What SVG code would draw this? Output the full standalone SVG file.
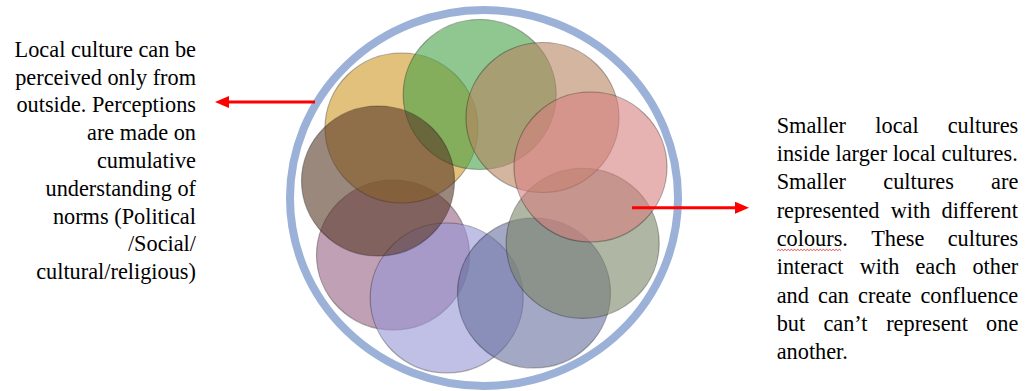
<svg xmlns="http://www.w3.org/2000/svg" width="1025" height="391" viewBox="0 0 1025 391">
<style>
text{font-family:"Liberation Serif","Times New Roman",serif;font-size:22.3px;fill:#000}
.c{stroke:#000;stroke-opacity:0.3;stroke-width:1.2;fill-opacity:0.6}
.ar{stroke:#ff0000;stroke-width:3;fill:none}
</style>
<defs>
<marker id="ah" markerUnits="userSpaceOnUse" markerWidth="14" markerHeight="12" refX="4" refY="6" orient="auto">
<path d="M0,0 L14,6 L0,12 z" fill="#ff0000"/>
</marker>
</defs>
<rect width="1025" height="391" fill="#fff"/>
<g id="outer-ring">
<ellipse cx="484" cy="198" rx="194" ry="188" fill="none" stroke="#9cb1d8" stroke-width="8"/>
</g>
<g id="mauve"><ellipse class="c" cx="393" cy="255" rx="76.5" ry="75" fill="#966182"/></g>
<g id="lavender"><ellipse class="c" cx="446.7" cy="298" rx="76.5" ry="75" fill="#9696d5"/></g>
<g id="slate"><ellipse class="c" cx="534" cy="293" rx="76.5" ry="75" fill="#666e9d"/></g>
<g id="olive"><ellipse class="c" cx="582.7" cy="243.3" rx="76.5" ry="75" fill="#7b8567"/></g>
<g id="yellow"><ellipse class="c" cx="401.5" cy="128" rx="76.5" ry="75" fill="#cf9826"/></g>
<g id="green"><ellipse class="c" cx="479.7" cy="94.5" rx="76.5" ry="75" fill="#46a046"/></g>
<g id="tan"><ellipse class="c" cx="542.5" cy="117.5" rx="76.5" ry="75" fill="#b78461"/></g>
<g id="pink"><ellipse class="c" cx="590.5" cy="167" rx="76.5" ry="75" fill="#d57f7f"/></g>
<g id="dark"><ellipse class="c" cx="378" cy="181" rx="76.5" ry="75" fill="#583926"/></g>
<g id="connectors">
<path class="ar" d="M315,102 L225,102" marker-end="url(#ah)"/>
<path class="ar" d="M632,207.7 L739,207.7" marker-end="url(#ah)"/>
</g>
<g id="left-text">
<text x="14.6" y="56.7">Local culture can be</text>
<text x="15.2" y="84.5">perceived only from</text>
<text x="16.4" y="112.3">outside. Perceptions</text>
<text x="87" y="140.1">are made on</text>
<text x="96.9" y="167.9">cumulative</text>
<text x="45.5" y="195.7">understanding of</text>
<text x="52.9" y="223.5">norms (Political</text>
<text x="127.9" y="251.3">/Social/</text>
<text x="36.2" y="279.1">cultural/religious)</text>
</g>
<g id="right-text">
<text y="132.7"><tspan x="776.7">Smaller</tspan><tspan x="875.3">local</tspan><tspan x="1018.3" text-anchor="end">cultures</tspan></text>
<text x="776.7" y="161">inside larger local cultures.</text>
<text y="189.3"><tspan x="776.7">Smaller</tspan><tspan x="883.3">cultures</tspan><tspan x="1018.3" text-anchor="end">are</tspan></text>
<text y="217.6"><tspan x="776.7">represented</tspan><tspan x="890.7">with</tspan><tspan x="941.5">different</tspan></text>
<text y="245.9"><tspan x="776.7">colours.</tspan><tspan x="871.2">These</tspan><tspan x="947.7">cultures</tspan></text>
<text y="274.2"><tspan x="776.7">interact</tspan><tspan x="859.7">with</tspan><tspan x="915.4">each</tspan><tspan x="1018.3" text-anchor="end">other</tspan></text>
<text y="302.5"><tspan x="776.7">and</tspan><tspan x="818">can</tspan><tspan x="858.1">create</tspan><tspan x="920.4">confluence</tspan></text>
<text y="330.8"><tspan x="776.7">but</tspan><tspan x="823.4">can’t</tspan><tspan x="886.2">represent</tspan><tspan x="1018.3" text-anchor="end">one</tspan></text>
<text x="776.7" y="359.1">another.</text>
</g>
<path d="M777 250.6 l1.6 -1.3 l1.6 1.3 l1.6 -1.3 l1.6 1.3 l1.6 -1.3 l1.6 1.3 l1.6 -1.3 l1.6 1.3 l1.6 -1.3 l1.6 1.3 l1.6 -1.3 l1.6 1.3 l1.6 -1.3 l1.6 1.3 l1.6 -1.3 l1.6 1.3 l1.6 -1.3 l1.6 1.3 l1.6 -1.3 l1.6 1.3 l1.6 -1.3 l1.6 1.3 l1.6 -1.3 l1.6 1.3 l1.6 -1.3 l1.6 1.3 l1.6 -1.3 l1.6 1.3 l1.6 -1.3 l1.6 1.3 l1.6 -1.3 l1.6 1.3 l1.6 -1.3 l1.6 1.3 l1.6 -1.3 l1.6 1.3 l1.6 -1.3 l1.6 1.3 l1.6 -1.3 l1.6 1.3" fill="none" stroke="#e02020" stroke-width="0.8"/>
</svg>
